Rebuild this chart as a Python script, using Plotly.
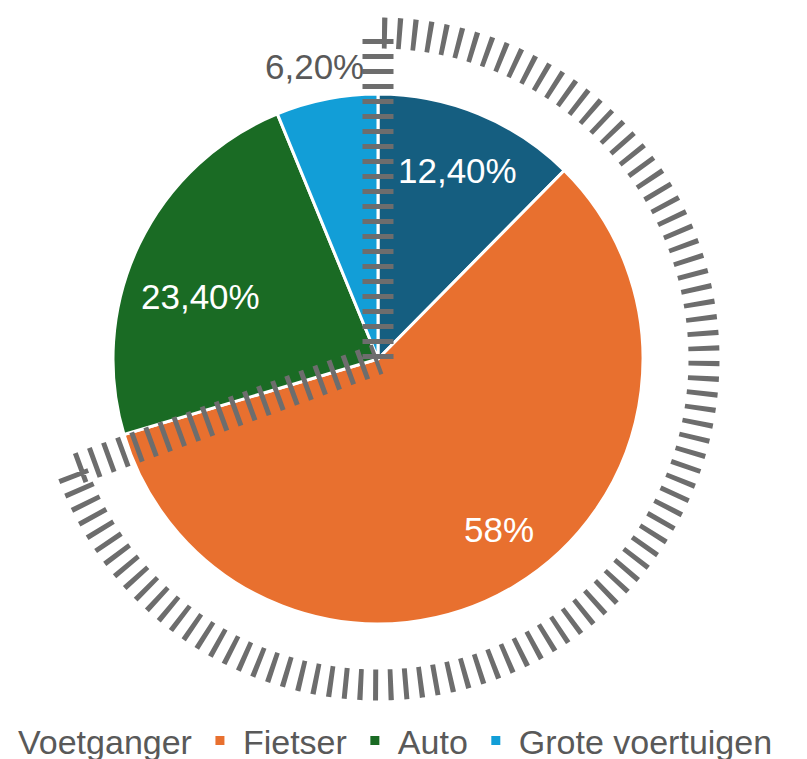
import numpy as np
import plotly.graph_objects as go

# ---- data ----
categories = ["Voetganger", "Fietser", "Auto", "Grote voertuigen"]
values = [12.4, 58.0, 23.4, 6.2]
value_labels = ["12,40%", "58%", "23,40%", "6,20%"]
highlighted = ["Voetganger", "Fietser"]   # slices enclosed by the hatched outline

# ---- styles ----
colors = ["#155e80", "#e8702f", "#1a6b24", "#129ed7"]
label_colors = ["white", "white", "white", "#595959"]
label_radius = [0.77, 0.79, 0.71, 1.13]     # label distance as fraction of pie radius
label_angle_shift = [0.5, -4.5, -6.0, -1.0]  # small angular nudges (deg)
FONT = "Liberation Sans"

# ---- layout geometry (figure pixels; page adds an 8px body margin) ----
W, H = 807, 759
pie_cx, pie_cy, pie_r = 370, 351, 265
mt = pie_cy - pie_r
mb = H - (pie_cy + pie_r)
plot_h = H - mt - mb


def to_paper(px, py):
    return px / W, (mt + plot_h - py) / plot_h


fig = go.Figure()
fig.add_trace(go.Pie(
    labels=categories,
    values=values,
    text=value_labels,
    textinfo="none",
    sort=False,
    direction="clockwise",
    rotation=0,
    marker=dict(colors=colors, line=dict(color="white", width=3)),
    hoverinfo="label+text",
    domain=dict(x=[(pie_cx - pie_r) / W, (pie_cx + pie_r) / W], y=[0, 1]),
))

total = sum(values)
cum = np.cumsum([0] + values[:-1]) / total

# ---- data labels placed at each slice's mid angle ----
for i, (lab, v) in enumerate(zip(value_labels, values)):
    mid = np.deg2rad((cum[i] + v / total / 2) * 360 + label_angle_shift[i])
    r = label_radius[i] * pie_r
    x, y = to_paper(pie_cx + r * np.sin(mid), pie_cy - r * np.cos(mid))
    fig.add_annotation(x=x, y=y, xref="paper", yref="paper", text=lab,
                       showarrow=False, xanchor="center", yanchor="middle",
                       font=dict(size=35, color=label_colors[i], family=FONT))

# ---- hatched outline around highlighted slices (angles from data) ----
frac_hl = sum(v for c, v in zip(categories, values) if c in highlighted) / total
end_trim_deg = 3.5
theta_end = np.deg2rad(frac_hl * 360 - end_trim_deg)
ring_r_px = 326
thetas = np.linspace(0, theta_end, 240)
pts = [to_paper(pie_cx, pie_cy)]
pts += [to_paper(pie_cx + ring_r_px * np.sin(t), pie_cy - ring_r_px * np.cos(t)) for t in thetas]
pts += [to_paper(pie_cx, pie_cy)]
path = "M " + " L ".join(f"{x:.5f},{y:.5f}" for x, y in pts)
fig.add_shape(type="path", xref="paper", yref="paper", path=path,
              line=dict(color="#6d6d6d", width=31, dash="5px,10px"),
              layer="above")

legend_left_px = -36
legend_mid_px = 733
fig.update_layout(
    width=W, height=H,
    margin=dict(l=0, r=0, t=mt, b=mb, autoexpand=False),
    paper_bgcolor="white", plot_bgcolor="white",
    showlegend=True,
    legend=dict(orientation="h", x=legend_left_px / W, xanchor="left",
                y=to_paper(0, legend_mid_px)[1], yanchor="middle",
                font=dict(size=34, color="#595959", family=FONT),
                itemwidth=36),
    font=dict(family=FONT),
)

fig.write_html("out.html")
